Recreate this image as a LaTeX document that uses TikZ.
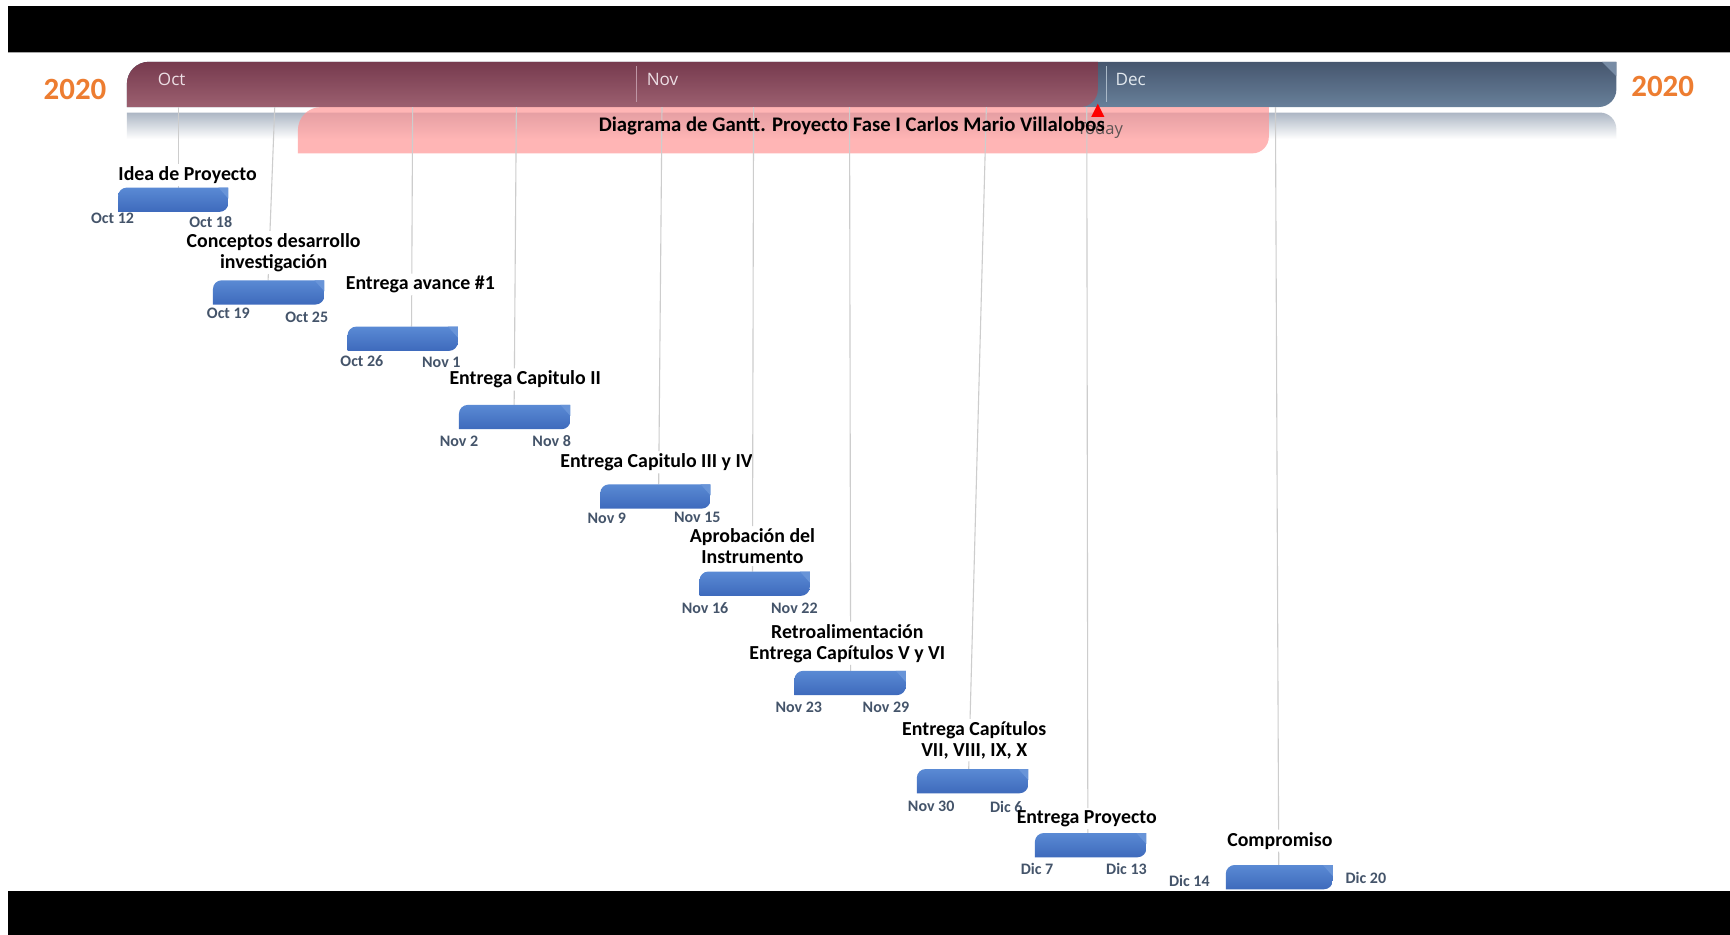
\documentclass[tikz,border=0pt]{standalone}
\usepackage{fontspec}
\setmainfont{Carlito}
\newfontfamily\segoe{Open Sans}
\usetikzlibrary{calc}
\definecolor{maroonA}{RGB}{118,58,78}
\definecolor{maroonB}{RGB}{156,96,112}
\definecolor{slateA}{RGB}{70,86,110}
\definecolor{slateB}{RGB}{104,128,154}
\definecolor{slateF}{RGB}{120,140,165}
\definecolor{barA}{RGB}{90,138,212}
\definecolor{barB}{RGB}{62,106,188}
\definecolor{barF}{RGB}{104,148,216}
\definecolor{dateC}{RGB}{68,84,106}
\definecolor{orangeC}{RGB}{237,125,49}
\definecolor{pinkC}{RGB}{255,150,150}
\definecolor{leadC}{RGB}{205,205,205}
\definecolor{reflA}{RGB}{172,182,196}
\definecolor{monC}{RGB}{236,222,228}
\definecolor{monD}{RGB}{226,232,238}
\definecolor{sepC}{RGB}{190,150,165}
\definecolor{sepD}{RGB}{170,185,200}
\definecolor{todayC}{RGB}{95,85,85}
\begin{document}
\begin{tikzpicture}[x=1pt,y=1pt,
  leader/.style={draw=leadC, line width=1pt},
  lab/.style={font=\fontsize{18}{19}\selectfont\bfseries, inner sep=2pt, align=center, text=black},
  dat/.style={font=\fontsize{14.5}{15}\selectfont\bfseries, text=dateC, inner sep=0pt},
  mon/.style={font=\segoe\fontsize{15.5}{16}\selectfont, inner sep=0pt, anchor=west},
  yr/.style={font=\fontsize{28}{30}\selectfont\bfseries, text=orangeC, inner sep=0pt},
  taskbar/.style={minimum height=22pt, inner sep=0pt, outer sep=0pt, anchor=north west,
    path picture={
      \shade[top color=barA, bottom color=barB]
        (path picture bounding box.south west)
        -- ([yshift=-8pt]path picture bounding box.north west)
        arc[start angle=180, end angle=90, radius=8pt]
        -- (path picture bounding box.north east)
        -- ([yshift=8pt]path picture bounding box.south east)
        arc[start angle=0, end angle=-90, radius=8pt]
        -- cycle;
      \fill[barF] ([xshift=-9pt]path picture bounding box.north east)
        -- (path picture bounding box.north east)
        -- ([yshift=-10pt]path picture bounding box.north east) -- cycle;
    }}
]
\useasboundingbox (0,0) rectangle (1568,-847);
\fill[white] (0,0) rectangle (1568,-847);
% black frame bars
\fill[black] (7,-5) rectangle (1568,-47);
\draw[gray!70, line width=1pt] (7,-47.5) -- (1568,-47.5);
\fill[black] (7,-808) rectangle (1568,-847);

% reflection under timeline
\shade[top color=reflA, bottom color=white] (115,-102) -- (1450,-102)
  arc[start angle=90, end angle=0, radius=15] -- (1465,-126) -- (115,-126) -- cycle;
% timeline (future part)
\shade[top color=slateA, bottom color=slateB] (115,-97) -- (115,-76)
  arc[start angle=180, end angle=90, radius=20] -- (1465,-56) -- (1465,-81)
  arc[start angle=0, end angle=-90, radius=16] -- cycle;
\fill[slateF] (1452,-56) -- (1465,-56) -- (1465,-69) -- cycle;
% timeline (elapsed part)
\shade[top color=maroonA, bottom color=maroonB] (115,-97) -- (115,-76)
  arc[start angle=180, end angle=90, radius=20] -- (995,-56) -- (995,-81)
  arc[start angle=0, end angle=-90, radius=16] -- cycle;

% month separators and names
\draw[sepC, line width=0.8pt] (577,-60) -- (577,-92);
\draw[sepD, line width=0.8pt] (1003,-60) -- (1003,-92);
\node[mon, text=monC] (oct) at (143,-72) {Oct};
\node[mon, text=monC] (nov) at (586,-72) {Nov};
\node[mon, text=monD] (dec) at (1011,-72) {Dec};

% years
\node[yr] (yearL) at (68,-81) {2020};
\node[yr] (yearR) at (1507,-78) {2020};

% pink title band
\fill[pinkC, opacity=0.7] (270,-139) -- (270,-118)
  arc[start angle=180, end angle=90, radius=21] -- (1150,-97) -- (1150,-124)
  arc[start angle=0, end angle=-90, radius=15] -- cycle;

% ---------- tasks ----------
% 1
\node[lab] (lab1) at (170,-159) {Idea de Proyecto};
\coordinate (t1) at (162,-97); \coordinate (b1) at (162,-170);
\draw[leader] (t1) -- ($(t1)!(lab1.north)!(b1)$);
\draw[leader] ($(t1)!(lab1.south)!(b1)$) -- (b1);
\node[taskbar, minimum width=100pt] (bar1) at (107,-170) {};
\node[dat] (s1) at (102,-198) {Oct 12};
\node[dat] (e1) at (191,-201) {Oct 18};
% 2
\node[lab] (lab2) at (248,-229) {Conceptos desarrollo\\investigación};
\coordinate (t2) at (249,-97); \coordinate (b2) at (243,-254);
\draw[leader] (t2) -- ($(t2)!(lab2.north)!(b2)$);
\draw[leader] ($(t2)!(lab2.south)!(b2)$) -- (b2);
\node[taskbar, minimum width=101pt] (bar2) at (193,-254) {};
\node[dat] (s2) at (207,-284) {Oct 19};
\node[dat] (e2) at (278,-288) {Oct 25};
% 3
\node[lab] (lab3) at (381,-258) {Entrega avance \#1};
\coordinate (t3) at (374,-97); \coordinate (b3) at (373,-296);
\draw[leader] (t3) -- ($(t3)!(lab3.north)!(b3)$);
\draw[leader] ($(t3)!(lab3.south)!(b3)$) -- (b3);
\node[taskbar, minimum width=100pt] (bar3) at (315,-296) {};
\node[dat] (s3) at (328,-327) {Oct 26};
\node[dat] (e3) at (400,-328) {Nov 1};
% 4
\node[lab] (lab4) at (476,-344) {Entrega Capitulo II};
\coordinate (t4) at (468,-97); \coordinate (b4) at (466,-367);
\draw[leader] (t4) -- ($(t4)!(lab4.north)!(b4)$);
\draw[leader] ($(t4)!(lab4.south)!(b4)$) -- (b4);
\node[taskbar, minimum width=101pt] (bar4) at (416,-367) {};
\node[dat] (s4) at (416,-400) {Nov 2};
\node[dat] (e4) at (500,-400) {Nov 8};
% 5
\node[lab] (lab5) at (595,-419) {Entrega Capitulo III y IV};
\coordinate (t5) at (600,-97); \coordinate (b5) at (597,-439);
\draw[leader] (t5) -- ($(t5)!(lab5.north)!(b5)$);
\draw[leader] ($(t5)!(lab5.south)!(b5)$) -- (b5);
\node[taskbar, minimum width=100pt] (bar5) at (544,-439) {};
\node[dat] (s5) at (550,-470) {Nov 9};
\node[dat] (e5) at (632,-469) {Nov 15};
% 6
\node[lab] (lab6) at (682,-495) {Aprobación del\\Instrumento};
\coordinate (t6) at (683,-97); \coordinate (b6) at (682,-518);
\draw[leader] (t6) -- ($(t6)!(lab6.north)!(b6)$);
\draw[leader] ($(t6)!(lab6.south)!(b6)$) -- (b6);
\node[taskbar, minimum width=100pt] (bar6) at (634,-518) {};
\node[dat] (s6) at (639,-551) {Nov 16};
\node[dat] (e6) at (720,-551) {Nov 22};
% 7
\node[lab] (lab7) at (768,-583) {Retroalimentación\\Entrega Capítulos V y VI};
\coordinate (t7) at (770,-97); \coordinate (b7) at (771,-608);
\draw[leader] (t7) -- ($(t7)!(lab7.north)!(b7)$);
\draw[leader] ($(t7)!(lab7.south)!(b7)$) -- (b7);
\node[taskbar, minimum width=101pt] (bar7) at (720,-608) {};
\node[dat] (s7) at (724,-641) {Nov 23};
\node[dat] (e7) at (803,-641) {Nov 29};
% 8
\node[lab] (lab8) at (883,-671) {Entrega Capítulos\\VII, VIII, IX, X};
\coordinate (t8) at (894,-97); \coordinate (b8) at (878,-697);
\draw[leader] (t8) -- ($(t8)!(lab8.north)!(b8)$);
\draw[leader] ($(t8)!(lab8.south)!(b8)$) -- (b8);
\node[taskbar, minimum width=101pt] (bar8) at (831,-697) {};
\node[dat] (s8) at (844,-731) {Nov 30};
\node[dat] (e8) at (912,-731) {Dic 6};
% 9
\node[lab] (lab9) at (985,-742) {Entrega Proyecto};
\coordinate (t9) at (985,-97); \coordinate (b9) at (986,-755);
\draw[leader] (t9) -- ($(t9)!(lab9.north)!(b9)$);
\draw[leader] ($(t9)!(lab9.south)!(b9)$) -- (b9);
\node[taskbar, minimum width=101pt] (bar9) at (938,-755) {};
\node[dat] (s9) at (940,-788) {Dic 7};
\node[dat] (e9) at (1021,-788) {Dic 13};
% 10
\node[lab] (lab10) at (1160,-762) {Compromiso};
\coordinate (t10) at (1156,-97); \coordinate (b10) at (1159,-784);
\draw[leader] (t10) -- ($(t10)!(lab10.north)!(b10)$);
\draw[leader] ($(t10)!(lab10.south)!(b10)$) -- (b10);
\node[taskbar, minimum width=97pt] (bar10) at (1111,-784) {};
\node[dat] (s10) at (1078,-798) {Dic 14};
\node[dat] (e10) at (1238,-796) {Dic 20};

% today marker
\fill[red] (989,-106) -- (1001,-106) -- (995,-94) -- cycle;
\node[font=\segoe\fontsize{15}{16}\selectfont, text=todayC, inner sep=0pt] (today) at (997,-118) {Today};
% title
\node[font=\fontsize{18.8}{20}\selectfont\bfseries, inner sep=0pt] (title) at (772,-114) {Diagrama de Gantt. Proyecto Fase I Carlos Mario Villalobos};
\end{tikzpicture}
\end{document}
